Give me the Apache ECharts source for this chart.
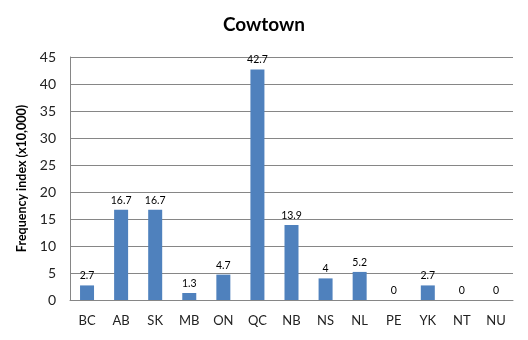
<!DOCTYPE html>
<html><head><meta charset="utf-8">
<script src="https://cdn.jsdelivr.net/npm/echarts@6/dist/echarts.min.js"></script>
<style>html,body{margin:0;padding:0;background:#fff}#c{width:528px;height:340px}</style>
</head><body><div id="c"></div>
<script>
const categories = ['BC','AB','SK','MB','ON','QC','NB','NS','NL','PE','YK','NT','NU'];
const values = [2.7,16.7,16.7,1.3,4.7,42.7,13.9,4,5.2,0,2.7,0,0];
const yTicks = [0,5,10,15,20,25,30,35,40,45];
const chart = echarts.init(document.getElementById('c'));
chart.setOption({
  animation:false,
  title:{text:'Cowtown',left:'center',top:10,textStyle:{fontFamily:'Lato',fontWeight:'bold',fontSize:19,color:'#000'}},
  grid:{left:70,right:15,top:57,bottom:40},
  xAxis:{type:'category',data:categories,
    axisLine:{lineStyle:{color:'#868686'}},axisTick:{show:false},
    axisLabel:{fontFamily:'Lato',fontSize:13,color:'#222',margin:14}},
  yAxis:{type:'value',min:yTicks[0],max:yTicks[yTicks.length-1],interval:5,
    name:'Frequency index (x10,000)',nameLocation:'middle',nameGap:36,
    nameTextStyle:{fontFamily:'Lato',fontWeight:'bold',fontSize:12.5,color:'#000'},
    axisLine:{show:true,lineStyle:{color:'#868686'}},axisTick:{show:false},
    splitLine:{lineStyle:{color:'#868686'}},
    axisLabel:{fontFamily:'Lato',fontSize:14,color:'#222',margin:14}},
  series:[{type:'bar',data:values,barWidth:14,itemStyle:{color:'#4F81BD'},
    label:{show:true,position:'top',distance:4,fontFamily:'Lato',fontSize:10.5,color:'#000'}}]
});
</script></body></html>
